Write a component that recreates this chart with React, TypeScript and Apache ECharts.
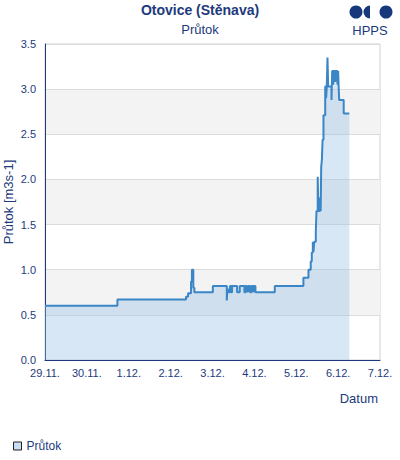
import React, { useEffect, useRef } from "react";
import * as echarts from "echarts";

const TITLE = "Otovice (Stěnava)";
const SUBTITLE = "Průtok";
const SERIES_NAME = "Průtok";
const Y_NAME = "Průtok [m3s-1]";
const X_NAME = "Datum";
const DATE_LABELS = ["29.11.", "30.11.", "1.12.", "2.12.", "3.12.", "4.12.", "5.12.", "6.12.", "7.12."];

// hours since 29.11. 00:00
const HOURS = [
  0, 41.5, 80.8, 82, 83.7, 84.2, 85, 85.6, 96.2, 104.2, 104.5, 105.2, 106, 106.6, 107.2,
  110.1, 111.6, 114.3, 115, 115.8, 116.6, 117.5, 118.3, 119, 119.6, 120.6, 131.7, 148.1,
  151, 152.3, 152.9, 153.5, 153.9, 154.3, 155.2, 155.6, 156.3, 156.7, 157.7, 158, 158.3,
  158.7, 159.1, 159.6, 160.6, 161.1, 161.5, 161.9, 162.3, 164.2, 164.6, 165.2, 165.5,
  166.4, 166.7, 167.6, 168, 168.3, 168.6, 171.2, 174.4,
];
const FLOW = [
  0.6, 0.67, 0.7, 0.74, 0.87, 1.0, 0.8, 0.75, 0.82, 0.66, 0.78, 0.75, 0.82, 0.75, 0.82,
  0.75, 0.82, 0.75, 0.82, 0.76, 0.82, 0.75, 0.82, 0.76, 0.82, 0.75, 0.82, 0.91,
  1.0, 1.09, 1.19, 1.31, 1.2, 1.31, 1.42, 1.65, 2.03, 1.65, 1.8, 1.65, 2.14,
  2.22, 2.44, 2.71, 3.03, 2.9, 3.03, 3.35, 3.03, 2.88, 3.2, 3.05, 3.2,
  3.08, 3.2, 3.05, 3.2, 3.03, 2.88, 2.73, 2.73,
];

const NAVY = "#1d3a7c";
const FONT = "Liberation Sans, Arial, sans-serif";

export default function App() {
  const ref = useRef<HTMLDivElement>(null);
  useEffect(() => {
    if (!ref.current) return;
    const chart = echarts.init(ref.current, undefined, { renderer: "svg" });
    const data = HOURS.map((h, i) => [h, FLOW[i]]);
    chart.setOption({
      animation: false,
      backgroundColor: "#ffffff",
      textStyle: { fontFamily: FONT },
      title: {
        text: TITLE,
        subtext: SUBTITLE,
        left: "center",
        top: -2,
        itemGap: 6,
        textStyle: { color: NAVY, fontSize: 14, fontWeight: "bold", fontFamily: FONT },
        subtextStyle: { color: NAVY, fontSize: 13, fontFamily: FONT },
      },
      legend: {
        left: 8,
        top: 435,
        icon: "rect",
        itemWidth: 8,
        itemHeight: 8,
        itemGap: 10,
        data: [{ name: SERIES_NAME, itemStyle: { color: "#c8def2", borderColor: "#222", borderWidth: 1 } }],
        textStyle: { color: NAVY, fontSize: 12, fontFamily: FONT },
      },
      grid: {
        left: 45,
        right: 20,
        top: 44,
        bottom: 100,
        show: true,
        containLabel: false,
        outerBoundsMode: "none",
        borderColor: "#d0d0d0",
        borderWidth: 1,
        backgroundColor: "transparent",
      },
      xAxis: {
        type: "value",
        min: 0,
        max: 192,
        interval: 24,
        axisLine: { show: true, lineStyle: { color: NAVY, width: 1 } },
        axisTick: { show: false },
        splitLine: { show: false },
        axisLabel: {
          color: NAVY,
          fontSize: 11,
          margin: 7,
          fontFamily: FONT,
          formatter: (v: number) => DATE_LABELS[Math.round(v / 24)] ?? "",
        },
      },
      yAxis: {
        type: "value",
        min: 0,
        max: 3.5,
        interval: 0.5,
        name: Y_NAME,
        nameLocation: "middle",
        nameGap: 30,
        nameMoveOverlap: false,
        nameTextStyle: { color: NAVY, fontSize: 13, fontFamily: FONT },
        axisLine: { show: true, lineStyle: { color: NAVY, width: 1 } },
        axisTick: { show: false },
        axisLabel: {
          color: NAVY,
          fontSize: 11,
          margin: 9,
          fontFamily: FONT,
          formatter: (v: number) => v.toFixed(1),
        },
        splitLine: { show: true, lineStyle: { color: "#dcdcdc", width: 1 } },
        splitArea: { show: true, areaStyle: { color: ["rgba(255,255,255,0)", "#f3f3f3"] } },
      },
      graphic: [
        {
          type: "text",
          right: 22,
          top: 392,
          style: { text: X_NAME, fill: NAVY, fontSize: 13, fontFamily: FONT },
        },
        { type: "circle", shape: { cx: 356, cy: 12, r: 6.5 }, style: { fill: "#17397c" } },
        {
          type: "sector",
          shape: { cx: 370, cy: 12, r: 6.5, startAngle: Math.PI / 2, endAngle: (3 * Math.PI) / 2 },
          style: { fill: "#17397c" },
        },
        { type: "circle", shape: { cx: 386, cy: 12, r: 6.5 }, style: { fill: "#17397c" } },
        {
          type: "text",
          x: 370,
          y: 24,
          style: { text: "HPPS", fill: NAVY, fontSize: 13, fontFamily: FONT, align: "center" },
        },
      ],
      series: [
        {
          name: SERIES_NAME,
          type: "line",
          step: "end",
          data,
          showSymbol: false,
          symbol: "none",
          lineStyle: { color: "#3a86c6", width: 2 },
          itemStyle: { color: "#3a86c6" },
          areaStyle: { color: "rgba(148,192,229,0.54)" },
        },
      ],
    });
    return () => chart.dispose();
  }, []);
  return (
    <div
      ref={ref}
      style={{ position: "fixed", left: 0, top: 0, width: 400, height: 460 }}
    />
  );
}
